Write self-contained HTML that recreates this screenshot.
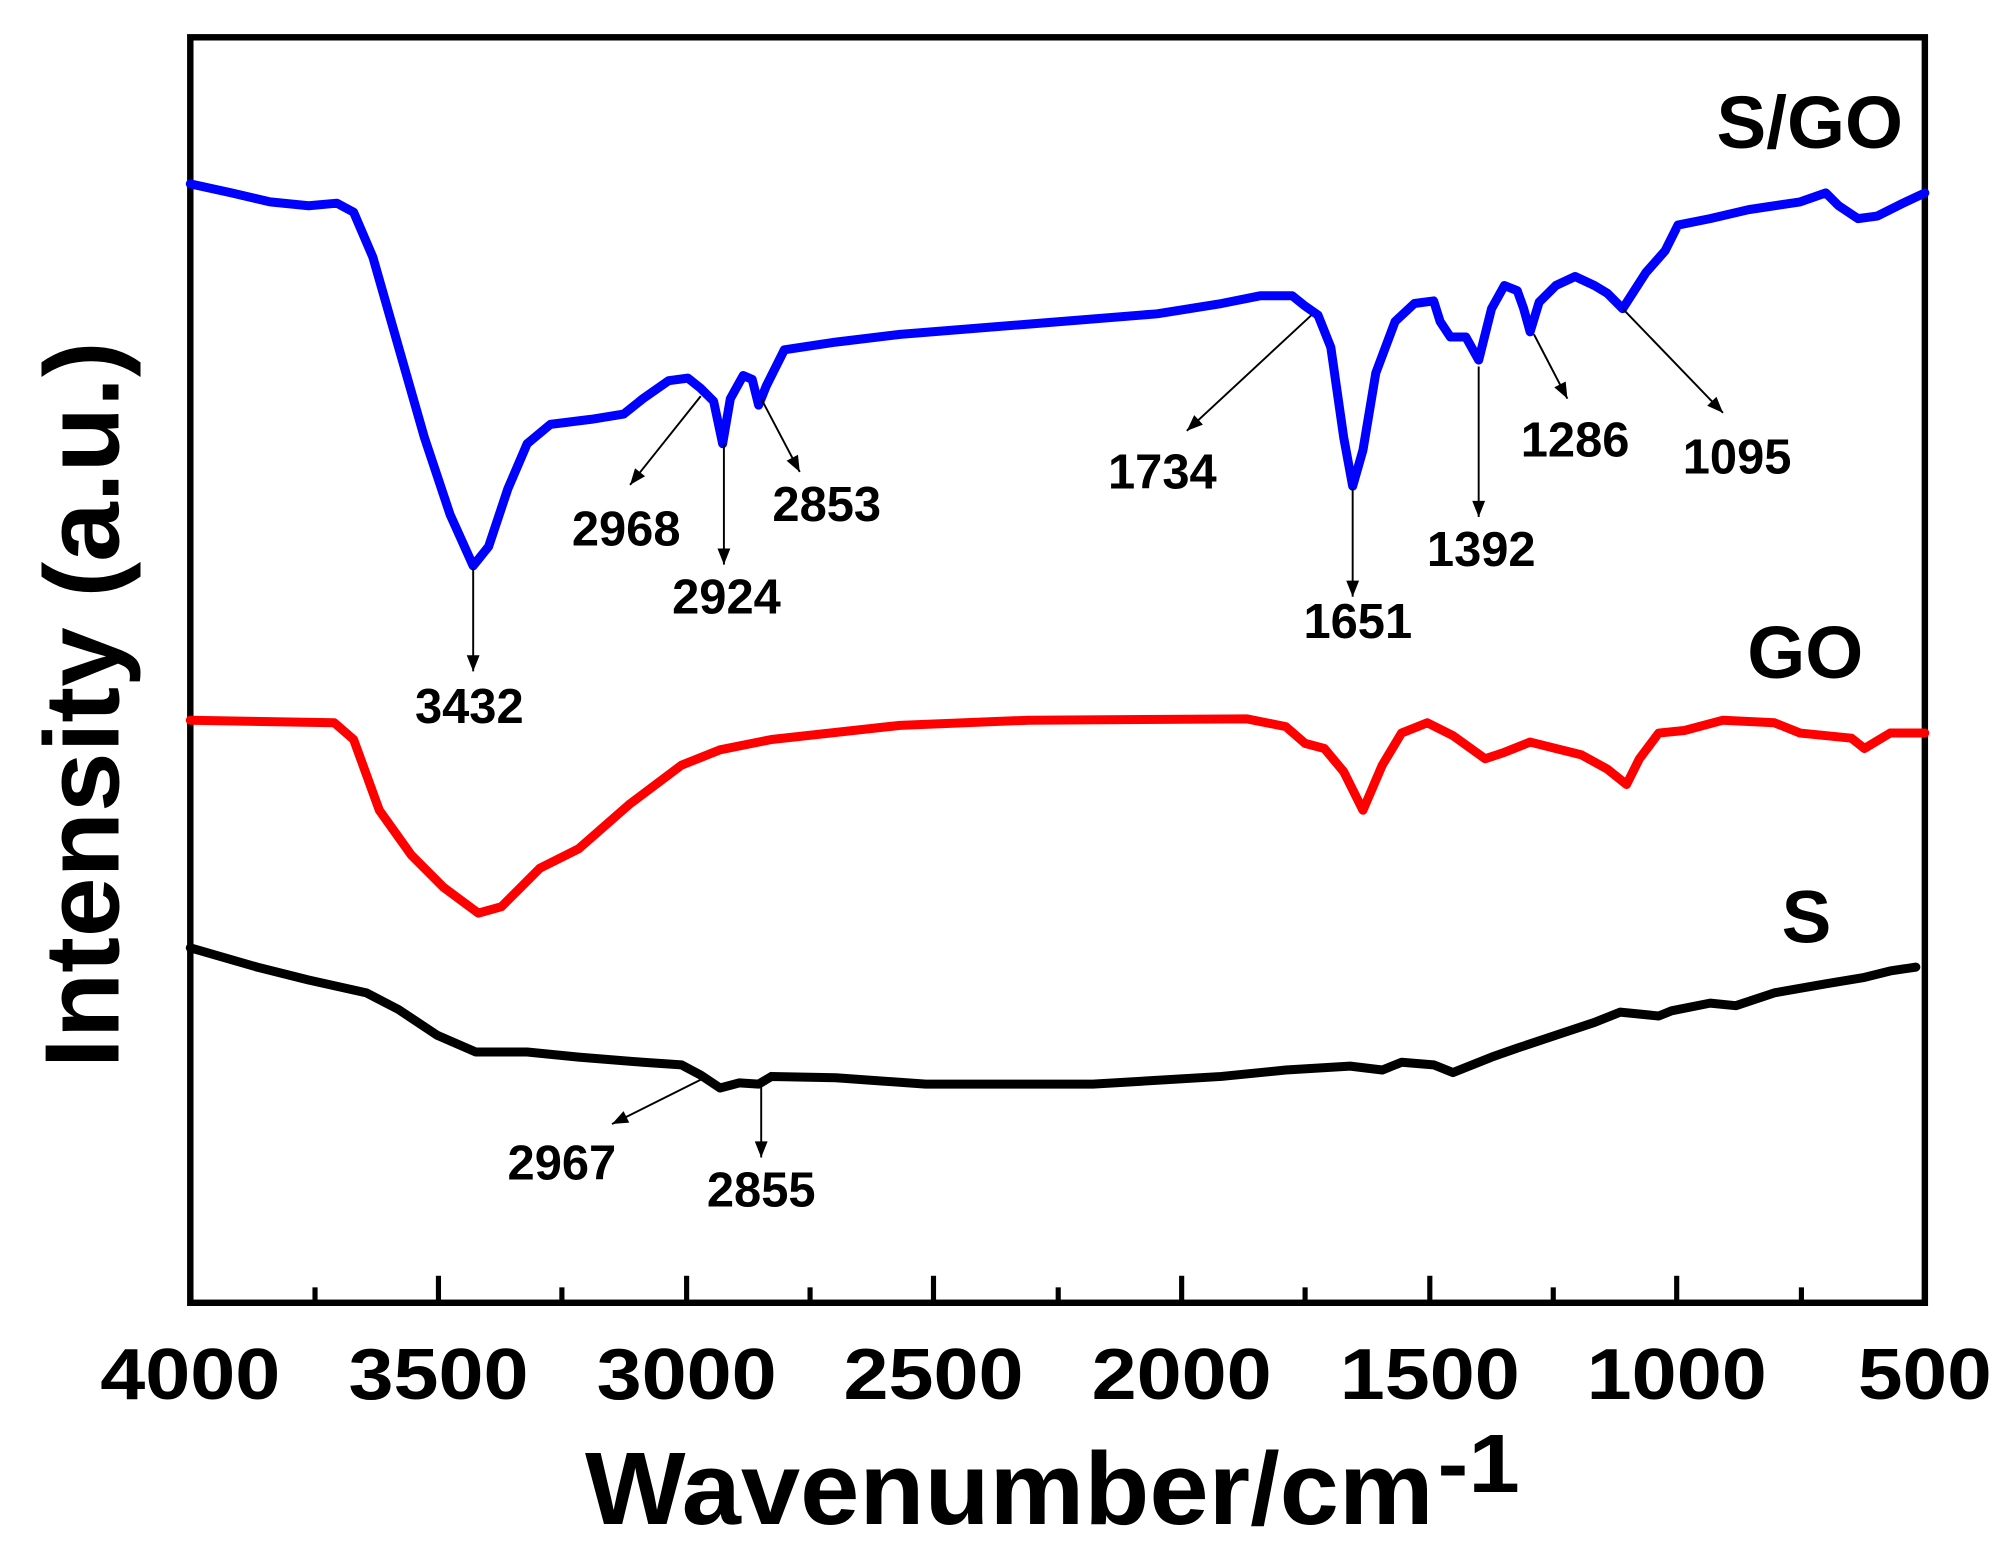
<!DOCTYPE html>
<html><head><meta charset="utf-8"><style>html,body{margin:0;padding:0;background:#fff}svg{display:block}</style></head>
<body>
<svg width="2011" height="1560" viewBox="0 0 1564 1213" preserveAspectRatio="none" xmlns="http://www.w3.org/2000/svg" font-family="Liberation Sans, Arial, sans-serif" font-weight="bold">
<defs><marker id="ar" markerWidth="8" markerHeight="10" refX="7" refY="4" orient="auto" markerUnits="userSpaceOnUse"><path d="M0,0 L8,4 L0,8 Z" fill="#000"/></marker>
<marker id="a2" viewBox="0 0 10 8" markerWidth="16" markerHeight="10" refX="10" refY="4" orient="auto" markerUnits="userSpaceOnUse"><path d="M0,0 L10,4 L0,8 Z" fill="#000"/></marker></defs>
<rect x="148" y="29" width="1349" height="984" fill="none" stroke="#000" stroke-width="5"/>
<g stroke="#000" stroke-width="4">
<line x1="341" y1="1013" x2="341" y2="992"/><line x1="534" y1="1013" x2="534" y2="992"/><line x1="726" y1="1013" x2="726" y2="992"/><line x1="919" y1="1013" x2="919" y2="992"/><line x1="1112" y1="1013" x2="1112" y2="992"/><line x1="1304" y1="1013" x2="1304" y2="992"/>
<line x1="245" y1="1013" x2="245" y2="1001"/><line x1="437" y1="1013" x2="437" y2="1001"/><line x1="630" y1="1013" x2="630" y2="1001"/><line x1="823" y1="1013" x2="823" y2="1001"/><line x1="1015" y1="1013" x2="1015" y2="1001"/><line x1="1208" y1="1013" x2="1208" y2="1001"/><line x1="1401" y1="1013" x2="1401" y2="1001"/>
</g>
<g font-size="56" text-anchor="middle">
<text x="148" y="1088" textLength="140" lengthAdjust="spacingAndGlyphs">4000</text>
<text x="341" y="1088" textLength="140" lengthAdjust="spacingAndGlyphs">3500</text>
<text x="534" y="1088" textLength="140" lengthAdjust="spacingAndGlyphs">3000</text>
<text x="726" y="1088" textLength="140" lengthAdjust="spacingAndGlyphs">2500</text>
<text x="919" y="1088" textLength="140" lengthAdjust="spacingAndGlyphs">2000</text>
<text x="1112" y="1088" textLength="140" lengthAdjust="spacingAndGlyphs">1500</text>
<text x="1304" y="1088" textLength="140" lengthAdjust="spacingAndGlyphs">1000</text>
<text x="1497" y="1088" textLength="104" lengthAdjust="spacingAndGlyphs">500</text>
</g>
<text x="455" y="1185" font-size="80" textLength="660" lengthAdjust="spacingAndGlyphs">Wavenumber/cm</text>
<text x="1118" y="1160" font-size="64" textLength="64" lengthAdjust="spacingAndGlyphs">-1</text>
<text transform="translate(92,548) rotate(-90)" x="0" y="0" font-size="82" text-anchor="middle" textLength="565" lengthAdjust="spacingAndGlyphs">Intensity (a.u.)</text>
<g fill="none" stroke-width="7" stroke-linejoin="round" stroke-linecap="round">
<polyline stroke="#0000ff" points="148,143 180,150 210,157 240,160 262,158 275,165 290,200 310,270 330,340 350,400 368,440 380,425 395,380 410,345 428,330 460,326 485,322 500,310 520,296 535,294 545,302 555,312 562,345 568,310 578,292 585,295 590,315 596,300 610,272 650,266 700,260 800,252 900,244 950,236 980,230 1005,230 1015,238 1025,245 1035,270 1045,340 1052,378 1060,350 1070,290 1085,250 1100,236 1115,234 1120,250 1128,262 1140,262 1150,280 1160,240 1170,222 1180,226 1185,240 1190,258 1197,235 1210,222 1225,215 1240,222 1250,228 1262,240 1280,212 1295,195 1305,175 1330,170 1360,163 1400,157 1420,150 1430,160 1445,170 1460,168 1480,158 1497,150"/>
<polyline stroke="#ff0000" points="148,560 260,562 275,575 295,630 320,665 345,690 372,710 390,705 420,675 450,660 490,625 530,595 560,583 600,575 700,564 800,560 970,559 1000,565 1015,578 1030,582 1045,600 1060,630 1075,595 1090,570 1110,562 1130,572 1155,590 1170,585 1190,577 1210,582 1230,587 1250,598 1265,610 1275,590 1290,570 1310,568 1340,560 1380,562 1400,570 1440,574 1450,582 1470,570 1497,570"/>
<polyline stroke="#000" points="148,737 200,752 240,762 285,772 310,785 340,805 370,818 410,818 450,822 500,826 530,828 545,836 560,846 575,842 590,843 600,837 650,838 720,843 850,843 950,837 1000,832 1050,829 1075,832 1090,826 1115,828 1130,834 1160,822 1180,815 1210,805 1240,795 1260,787 1290,790 1300,786 1330,780 1350,782 1380,772 1420,765 1450,760 1470,755 1490,752"/>
</g>
<g stroke="#000" stroke-width="1.5" marker-end="url(#a2)">
<line x1="368" y1="442" x2="368" y2="522"/>
<line x1="545" y1="308" x2="490" y2="377"/>
<line x1="563" y1="345" x2="563" y2="439"/>
<line x1="592" y1="310" x2="622" y2="367"/>
<line x1="1020" y1="245" x2="923" y2="335"/>
<line x1="1052" y1="380" x2="1052" y2="464"/>
<line x1="1150" y1="285" x2="1150" y2="402"/>
<line x1="1193" y1="260" x2="1219" y2="310"/>
<line x1="1262" y1="240" x2="1340" y2="321"/>
<line x1="548" y1="838" x2="476" y2="874"/>
<line x1="592" y1="840" x2="592" y2="900"/>
</g>
<g font-size="38" text-anchor="middle">
<text x="365" y="562">3432</text>
<text x="487" y="424">2968</text>
<text x="565" y="477">2924</text>
<text x="643" y="405">2853</text>
<text x="904" y="380">1734</text>
<text x="1056" y="496">1651</text>
<text x="1152" y="440">1392</text>
<text x="1225" y="355">1286</text>
<text x="1351" y="368">1095</text>
<text x="437" y="917">2967</text>
<text x="592" y="938">2855</text>
</g>
<g font-size="58">
<text x="1480" y="115" text-anchor="end">S/GO</text>
<text x="1404" y="527" text-anchor="middle">GO</text>
<text x="1405" y="733" text-anchor="middle">S</text>
</g>
</svg>
</body></html>
